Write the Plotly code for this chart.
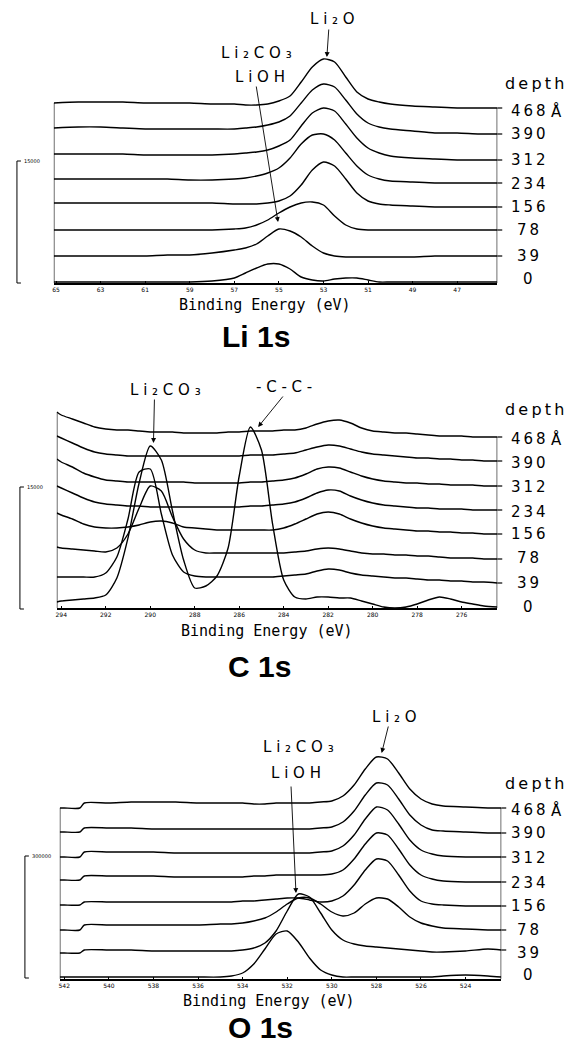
import plotly.graph_objects as go

W, H = 572, 1047

depths = ["468", "390", "312", "234", "156", "78", "39", "0"]

# ---------------- Li 1s ----------------
li_energy = [65.1, 64, 63, 62, 61, 60, 59, 58, 57, 56.5, 56, 55.5, 55, 54.5, 54,
             53.5, 53, 52.5, 52, 51.5, 51, 50.5, 50, 49, 48, 47, 46, 45.2]
li_468 = [180, 181, 181, 181, 180, 180, 180, 179, 179, 178, 178, 179, 182, 187, 201, 216, 224, 221, 206, 191, 184, 181, 179, 177, 176, 175, 175, 175]
li_390 = [155, 156, 156, 155, 154, 154, 154, 154, 154, 155, 156, 158, 161, 167, 180, 193, 199, 196, 183, 169, 160, 156, 154, 152, 150, 150, 149, 149]
li_312 = [129, 129, 129, 129, 128, 128, 128, 128, 129, 130, 131, 133, 137, 143, 157, 170, 175, 172, 159, 145, 135, 130, 127, 125, 124, 123, 123, 123]
li_234 = [104, 104, 104, 104, 104, 104, 103, 103, 104, 105, 107, 110, 115, 125, 139, 148, 149, 143, 130, 117, 108, 104, 102, 101, 100, 100, 100, 100]
li_156 = [80, 80, 80, 80, 80, 80, 80, 80, 79, 79, 79, 80, 82, 87, 98, 113, 121, 117, 104, 90, 82, 79, 78, 77, 76, 76, 76, 76]
li_78 = [53, 53, 53, 53, 53, 53, 53, 53, 54, 55, 58, 63, 70, 76, 80, 81, 78, 67, 58, 54, 53, 53, 53, 53, 53, 53, 53, 53]
li_39 = [27, 27, 27, 27, 27, 28, 28, 30, 33, 35, 39, 47, 54, 52, 46, 37, 30, 27, 26, 26, 26, 26, 26, 26, 27, 27, 27, 27]
li_0 = [1, 1, 1, 1, 1, 1, 1, 2, 5, 10, 15, 19, 19, 14, 6, 3, 2, 4, 5, 5, 3, 1, 1, 1, 1, 1, 1, 1]
li_ticks = [65, 63, 61, 59, 57, 55, 53, 51, 49, 47]

# ---------------- C 1s ----------------
c_energy = [294.2, 294, 293.5, 293, 292.5, 292, 291.5, 291, 290.5, 290, 289.5, 289, 288.5, 288,
            287.5, 287, 286.5, 286, 285.5, 285, 284.5, 284, 283.5, 283, 282.5, 282, 281.5, 281,
            280.5, 280, 279.5, 279, 278.5, 278, 277.5, 277, 276.5, 276, 275.5, 275, 274.4]
c_468 = [196, 193, 189, 185, 181, 179, 178, 178, 177, 176, 176, 176, 175, 175, 175, 175, 176, 176, 177, 177, 177, 178, 178, 180, 184, 187, 188, 185, 180, 177, 176, 175, 175, 174, 173, 172, 172, 172, 171, 171, 171]
c_390 = [172, 170, 165, 160, 156, 154, 153, 152, 152, 152, 152, 152, 152, 152, 152, 152, 152, 152, 153, 153, 153, 154, 155, 158, 161, 163, 162, 159, 156, 154, 153, 152, 151, 150, 150, 149, 149, 148, 148, 147, 147]
c_312 = [149, 146, 141, 135, 131, 128, 127, 126, 126, 126, 126, 126, 126, 125, 125, 125, 125, 125, 126, 126, 127, 128, 130, 134, 139, 141, 140, 136, 132, 129, 127, 126, 125, 125, 124, 124, 123, 123, 123, 122, 122]
c_234 = [122, 120, 115, 110, 106, 104, 103, 102, 102, 101, 101, 101, 101, 101, 101, 101, 101, 101, 102, 102, 103, 104, 106, 110, 115, 118, 117, 112, 108, 105, 103, 102, 101, 100, 100, 99, 99, 99, 98, 98, 98]
c_156 = [95, 93, 89, 84, 81, 80, 80, 81, 83, 86, 87, 85, 81, 80, 79, 78, 78, 78, 78, 78, 78, 80, 84, 89, 94, 96, 94, 89, 85, 82, 80, 79, 78, 77, 77, 76, 76, 75, 75, 74, 74]
c_78 = [61, 60, 59, 58, 57, 56, 60, 74, 100, 122, 117, 91, 69, 58, 55, 55, 55, 55, 55, 55, 55, 55, 56, 57, 59, 60, 59, 57, 55, 54, 54, 53, 53, 52, 52, 51, 50, 50, 50, 49, 49]
c_39 = [31, 31, 31, 31, 31, 35, 51, 89, 136, 139, 94, 53, 36, 32, 31, 31, 31, 31, 31, 31, 31, 32, 33, 34, 37, 39, 38, 35, 33, 32, 31, 30, 30, 29, 28, 28, 27, 27, 26, 26, 25]
c_0 = [6, 7, 8, 9, 10, 13, 30, 70, 125, 162, 148, 97, 48, 20, 22, 32, 60, 132, 181, 158, 84, 28, 11, 9, 11, 11, 10, 10, 7, 4, 1, 0, 1, 4, 8, 11, 9, 6, 4, 2, 1]
c_ticks = [294, 292, 290, 288, 286, 284, 282, 280, 278, 276]

# ---------------- O 1s ----------------
o_energy = [542.2, 542, 541.3, 541.1, 540, 539, 538, 537, 536, 535, 534.5, 534, 533.5, 533,
            532.5, 532, 531.5, 531, 530.5, 530, 529.5, 529, 528.5, 528, 527.5, 527, 526.5,
            526, 525.5, 525, 524, 523, 522.4]
o_468 = [171, 171, 171, 176, 176, 177, 177, 177, 176, 176, 176, 176, 175, 175, 176, 176, 176, 176, 177, 178, 183, 194, 210, 222, 220, 206, 190, 180, 175, 173, 172, 171, 171]
o_390 = [147, 147, 147, 151, 151, 151, 150, 150, 150, 150, 150, 150, 150, 150, 150, 150, 150, 150, 151, 152, 157, 168, 184, 196, 194, 180, 164, 154, 149, 148, 147, 146, 146]
o_312 = [122, 122, 122, 127, 127, 127, 127, 126, 126, 126, 126, 126, 126, 126, 126, 126, 126, 126, 127, 128, 133, 144, 160, 172, 169, 155, 139, 129, 125, 123, 122, 122, 122]
o_234 = [99, 99, 99, 103, 103, 103, 103, 102, 102, 102, 102, 102, 103, 103, 104, 104, 104, 104, 104, 105, 109, 120, 135, 146, 144, 130, 114, 104, 100, 98, 97, 97, 97]
o_156 = [74, 74, 74, 77, 77, 77, 77, 77, 77, 77, 77, 78, 78, 79, 80, 81, 81, 79, 77, 78, 83, 94, 109, 120, 118, 104, 88, 78, 75, 74, 73, 73, 73]
o_78 = [49, 49, 49, 54, 54, 54, 54, 54, 54, 55, 55, 56, 58, 61, 67, 75, 81, 81, 75, 67, 63, 66, 75, 81, 80, 72, 62, 56, 53, 51, 50, 49, 49]
o_39 = [26, 26, 26, 29, 29, 29, 28, 28, 28, 28, 28, 29, 31, 36, 48, 68, 85, 82, 66, 49, 39, 35, 33, 32, 31, 30, 29, 28, 27, 27, 28, 30, 29]
o_0 = [2, 2, 2, 2, 2, 2, 2, 2, 2, 2, 3, 6, 15, 30, 45, 48, 37, 21, 9, 4, 2, 2, 2, 2, 2, 2, 2, 2, 2, 3, 4, 3, 2]
o_ticks = [542, 540, 538, 536, 534, 532, 530, 528, 526, 524]


def P(x, y):
    return x / W, 1 - y / H


def spaced(s, sep="\u2009"):
    return sep.join(s)


panels = [
    dict(energy=li_energy, curves=[li_468, li_390, li_312, li_234, li_156, li_78, li_39, li_0],
         ticks=li_ticks, left=52, right=497, axis=283, top=0,
         label_y=[111, 134, 160, 184, 207, 230, 256, 279], depth_y=83, title="Li 1s", title_xy=(255, 336),
         xtitle_xy=(264, 305), bar=(15, 161, 283, "15000")),
    dict(energy=c_energy, curves=[c_468, c_390, c_312, c_234, c_156, c_78, c_39, c_0],
         ticks=c_ticks, left=55, right=497, axis=608, top=330,
         label_y=[439, 463, 487, 512, 534, 558, 583, 607], depth_y=410, title="C 1s", title_xy=(258, 666),
         xtitle_xy=(266, 631), bar=(18, 487, 609, "15000")),
    dict(energy=o_energy, curves=[o_468, o_390, o_312, o_234, o_156, o_78, o_39, o_0],
         ticks=o_ticks, left=58, right=501, axis=979, top=650,
         label_y=[810, 833, 858, 883, 906, 930, 953, 975], depth_y=783, title="O 1s", title_xy=(259, 1027),
         xtitle_xy=(268, 1001), bar=(23, 856, 978, "300000")),
]

fig = go.Figure()
layout = dict(width=W, height=H, margin=dict(l=0, r=0, t=0, b=0),
              plot_bgcolor="white", paper_bgcolor="white", showlegend=False)
shapes = []
annotations = []
label_font = dict(family="DejaVu Sans", size=15, color="black")

for i, p in enumerate(panels, start=1):
    xk = "x" if i == 1 else f"x{i}"
    yk = "y" if i == 1 else f"y{i}"
    xname = "xaxis" if i == 1 else f"xaxis{i}"
    yname = "yaxis" if i == 1 else f"yaxis{i}"
    e = p["energy"]
    for vals in p["curves"]:
        fig.add_trace(go.Scatter(x=e, y=vals, xaxis=xk, yaxis=yk, mode="lines",
                                 line=dict(color="black", width=1.4, shape="spline", smoothing=0.7),
                                 hoverinfo="skip"))
    x0p, _ = P(p["left"], 0)
    x1p, _ = P(p["right"], 0)
    _, ybot = P(0, p["axis"])
    _, ytop = P(0, p["top"])
    layout[xname] = dict(domain=[x0p, x1p], range=[e[0], e[-1]], anchor=yk,
                         showline=True, linecolor="black", linewidth=1.5, mirror=False,
                         showgrid=False, zeroline=False, ticks="inside", ticklen=2,
                         tickwidth=1, tickcolor="black", tickvals=p["ticks"],
                         ticktext=[str(t) for t in p["ticks"]],
                         tickfont=dict(family="DejaVu Sans", size=6, color="black"))
    layout[yname] = dict(domain=[ybot, ytop], range=[0, p["axis"] - p["top"]], anchor=xk,
                         visible=False, fixedrange=True)
    top_curve = p["curves"][0]
    # frame lines
    shapes.append(dict(type="line", xref=xk, yref=yk, x0=e[0], x1=e[0], y0=0, y1=top_curve[0],
                       line=dict(color="black", width=1.2)))
    shapes.append(dict(type="line", xref=xk, yref=yk, x0=e[-1], x1=e[-1], y0=0, y1=top_curve[-1],
                       line=dict(color="black", width=1.2)))
    for vals in p["curves"][:-1]:
        shapes.append(dict(type="line", xref="paper", yref=yk, x0=x1p, x1=(p["right"] + 5) / W,
                           y0=vals[-1], y1=vals[-1], line=dict(color="black", width=1.2)))
    # scale bar
    bx, by0, by1, btxt = p["bar"]
    for (xa, ya, xb, yb) in [(bx, by0, bx, by1), (bx, by0, bx + 4, by0), (bx, by1, bx + 4, by1)]:
        ax_, ay_ = P(xa, ya)
        bx_, byy = P(xb, yb)
        shapes.append(dict(type="line", xref="paper", yref="paper", x0=ax_, y0=ay_, x1=bx_, y1=byy,
                           line=dict(color="black", width=1)))
    tx, ty = P(bx + 5, by0)
    annotations.append(dict(x=tx, y=ty, xref="paper", yref="paper", text=btxt, showarrow=False,
                            xanchor="left", yanchor="middle",
                            font=dict(family="DejaVu Sans", size=5, color="black")))
    # depth labels
    dx, dy = P(534, p["depth_y"])
    annotations.append(dict(x=dx, y=dy, xref="paper", yref="paper", text=spaced("depth"),
                            showarrow=False, xanchor="center", yanchor="middle",
                            font=dict(family="DejaVu Sans", size=16, color="black")))
    for lab, ly in zip(depths, p["label_y"]):
        lx, lyp = P(528, ly)
        annotations.append(dict(x=lx, y=lyp, xref="paper", yref="paper", text=spaced(lab),
                                showarrow=False, xanchor="center", yanchor="middle", font=label_font))
    ax_, ay_ = P(556, p["label_y"][0])
    annotations.append(dict(x=ax_, y=ay_, xref="paper", yref="paper", text="Å",
                            showarrow=False, xanchor="center", yanchor="middle", font=label_font))
    # titles
    tx, ty = P(*p["title_xy"])
    annotations.append(dict(x=tx, y=ty, xref="paper", yref="paper", text="<b>" + p["title"] + "</b>",
                            showarrow=False, xanchor="center", yanchor="middle",
                            font=dict(family="Liberation Sans", size=30, color="black")))
    tx, ty = P(*p["xtitle_xy"])
    annotations.append(dict(x=tx, y=ty, xref="paper", yref="paper", text="Binding Energy (eV)",
                            showarrow=False, xanchor="center", yanchor="middle",
                            font=dict(family="DejaVu Sans Mono", size=15, color="black")))

# chemical labels (pixel positions) and arrows (tail -> tip)
chem_labels = [
    ("L i ₂ O", 332, 19), ("L i ₂ C O ₃", 255, 53), ("L i O H", 259, 77),
    ("L i ₂ C O ₃", 164, 390), ("- C - C -", 283, 387),
    ("L i ₂ O", 394, 717), ("L i ₂ C O ₃", 298, 747), ("L i O H", 295, 773),
]
for txt, x, y in chem_labels:
    xx, yy = P(x, y)
    annotations.append(dict(x=xx, y=yy, xref="paper", yref="paper", text=txt, showarrow=False,
                            xanchor="center", yanchor="middle", font=label_font))

arrows = [
    ((328, 28), (326, 57)), ((255, 85), (277, 222)),
    ((153, 398), (152, 443)), ((283, 395), (257, 427)),
    ((388, 725), (381, 753)), ((290, 785), (295, 893)),
]
for (tx_, ty_), (hx, hy) in arrows:
    xx, yy = P(hx, hy)
    annotations.append(dict(x=xx, y=yy, xref="paper", yref="paper", text="", showarrow=True,
                            ax=tx_ - hx, ay=ty_ - hy, arrowhead=2, arrowsize=1.1, arrowwidth=0.9,
                            arrowcolor="black", standoff=0))

layout["shapes"] = shapes
layout["annotations"] = annotations
fig.update_layout(**layout)
fig.write_html("out.html")
